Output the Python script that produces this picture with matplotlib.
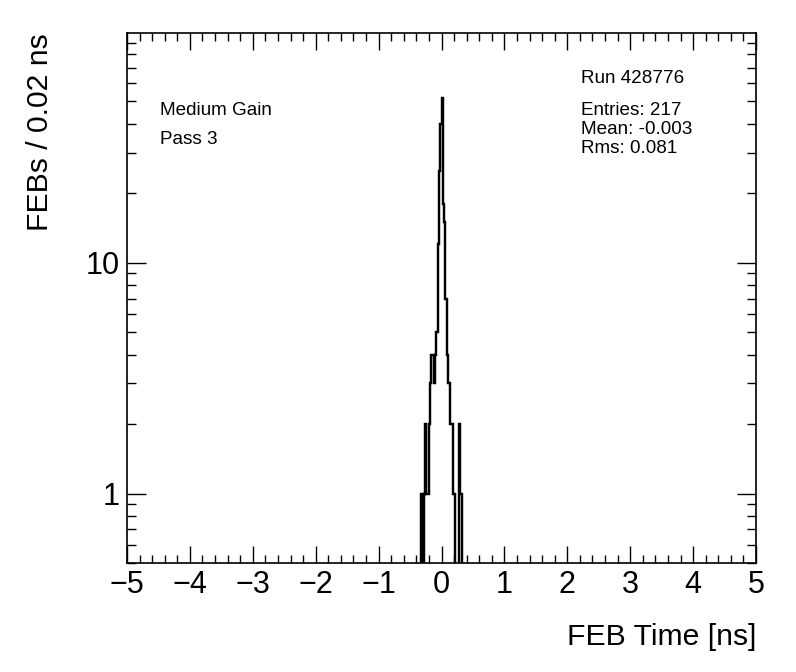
import numpy as np
import matplotlib
matplotlib.use("Agg")
import matplotlib.pyplot as plt
from matplotlib import ticker

# ---- data ----
bin_width = 0.02
first_edge = -0.32
counts = [1, 0, 1, 2, 1, 1, 2, 3, 4, 4, 3, 4, 5, 12, 25, 40,
          52, 18, 15, 7, 4, 3, 3, 2, 2, 1, 1, 0, 0, 0, 2, 1]
x_range = (-5, 5)
y_range = (0.5, 99)
x_label = "FEB Time [ns]"
y_label = "FEBs / 0.02 ns"
left_texts = ["Medium Gain", "Pass 3"]
run_text = "Run 428776"
stats_texts = ["Entries: 217", "Mean: -0.003", "Rms: 0.081"]

plt.rcParams['font.family'] = ['Liberation Sans', 'DejaVu Sans']

fig = plt.figure(figsize=(7.96, 6.72), dpi=100)
ax = fig.add_axes([127/796, 1-563/672, 629/796, 530/672])

counts_arr = np.array(counts, dtype=float)
edges = first_edge + bin_width*np.arange(len(counts_arr)+1)
# pad with empty bins so the outline drops out of the frame at both ends
vals = np.concatenate([[0.0], counts_arr, [0.0]])
edges_full = np.concatenate([[edges[0]-bin_width], edges, [edges[-1]+bin_width]])
vals_plot = np.where(vals > 0, vals, 1e-3)
ax.stairs(vals_plot, edges_full, color='black', linewidth=1.75, baseline=None)

ax.set_yscale('log')
ax.set_xlim(*x_range)
ax.set_ylim(*y_range)

ax.xaxis.set_major_locator(ticker.MultipleLocator(1))
ax.xaxis.set_minor_locator(ticker.MultipleLocator(0.2))
ax.yaxis.set_major_locator(ticker.LogLocator(base=10, subs=(1.0,)))
ax.yaxis.set_minor_locator(ticker.LogLocator(base=10, subs=np.arange(2, 10)))
ax.yaxis.set_major_formatter(ticker.FuncFormatter(lambda v, _: f"{v:g}"))
ax.yaxis.set_minor_formatter(ticker.NullFormatter())

ax.tick_params(which='both', direction='in', top=True, right=True,
               labelsize=22, width=1.0, color='black')
ax.tick_params(axis='x', which='major', length=12, pad=5)
ax.tick_params(axis='x', which='minor', length=5.5)
ax.tick_params(axis='y', which='major', length=14, pad=5)
ax.tick_params(axis='y', which='minor', length=6.5)
for s in ax.spines.values():
    s.set_linewidth(1.2)

ax.set_xlabel(x_label, fontsize=21.7, loc='right')
ax.xaxis.set_label_coords(1.0, -0.1396)
ax.xaxis.label.set_va('center')

ax.set_ylabel(y_label, fontsize=21.7)
ylab = ax.yaxis.label
ylab.set_rotation_mode('default')
ylab.set_ha('center')
ylab.set_va('top')
ax.yaxis.set_label_coords(-0.138, 1.0)

left_y = [0.8447, 0.7911]
for t, yy in zip(left_texts, left_y):
    ax.text(0.0525, yy, t, transform=ax.transAxes,
            fontsize=13.6, ha='left', va='baseline')
ax.text(0.7218, 0.9066, run_text, transform=ax.transAxes,
        fontsize=13.6, ha='left', va='baseline')
stats_y = [0.8462, 0.8094, 0.7742]
for t, yy in zip(stats_texts, stats_y):
    ax.text(0.7218, yy, t, transform=ax.transAxes,
            fontsize=13.6, ha='left', va='baseline')

fig.savefig("out.png", dpi=100)
